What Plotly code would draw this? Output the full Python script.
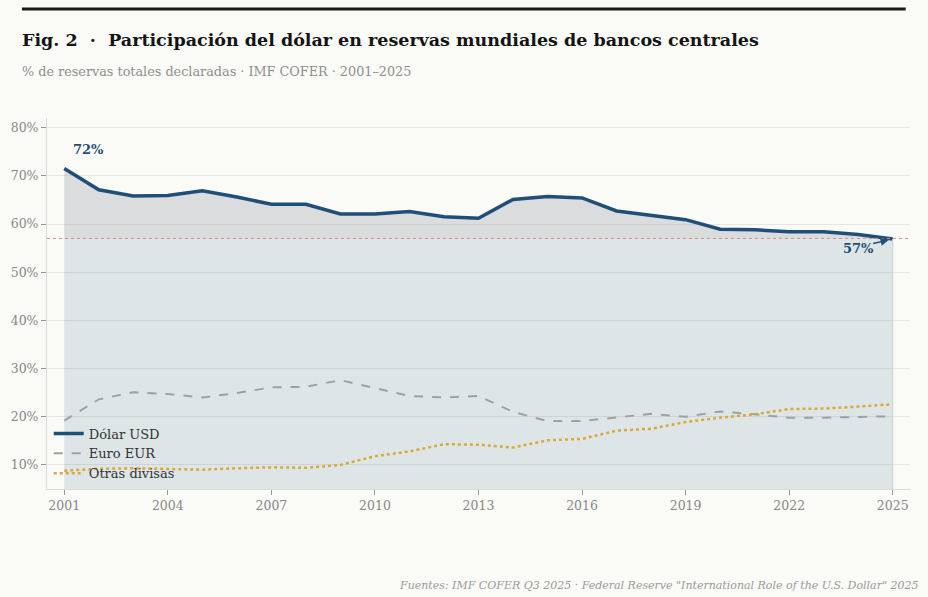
import plotly.graph_objects as go

# Data (IMF COFER, % of allocated reserves)
years = list(range(2001, 2026))
usd = [71.5, 67.1, 65.8, 65.9, 66.9, 65.6, 64.1, 64.1, 62.1, 62.1, 62.6, 61.5, 61.2,
       65.1, 65.7, 65.4, 62.7, 61.8, 60.9, 58.9, 58.8, 58.4, 58.4, 57.8, 56.9]
eur = [19.2, 23.6, 25.1, 24.7, 24.0, 24.9, 26.1, 26.2, 27.6, 25.9, 24.3, 24.0, 24.3,
       21.0, 19.1, 19.1, 19.9, 20.6, 20.0, 21.1, 20.5, 19.8, 19.8, 20.0, 20.1]
other = [8.8, 9.2, 9.3, 9.2, 9.0, 9.3, 9.5, 9.4, 10.0, 11.8, 12.8, 14.3, 14.2,
         13.6, 15.1, 15.4, 17.1, 17.5, 18.9, 19.8, 20.5, 21.6, 21.7, 22.1, 22.6]
ref_level = 57
tick_years = [2001, 2004, 2007, 2010, 2013, 2016, 2019, 2022, 2025]
pct_ticks = [10, 20, 30, 40, 50, 60, 70, 80]

serif = "DejaVu Serif"
bg = "#fafaf6"
blue = "#1f4e79"

fig = go.Figure()

# area under the dollar line
fig.add_trace(go.Scatter(
    x=years, y=usd, mode="lines", line=dict(width=0),
    fill="tozeroy", fillcolor="rgba(40,92,122,0.13)",
    showlegend=False, hoverinfo="skip"))
# tint between the 57% level and the dollar line
fig.add_trace(go.Scatter(
    x=years, y=[ref_level] * len(years), mode="lines", line=dict(width=0),
    showlegend=False, hoverinfo="skip"))
fig.add_trace(go.Scatter(
    x=years, y=usd, mode="lines", line=dict(width=0),
    fill="tonexty", fillcolor="rgba(180,80,80,0.06)",
    showlegend=False, hoverinfo="skip"))

fig.add_trace(go.Scatter(
    x=years, y=usd, mode="lines", name="Dólar USD",
    line=dict(color=blue, width=3.5)))
fig.add_trace(go.Scatter(
    x=years, y=eur, mode="lines", name="Euro EUR",
    line=dict(color="#a0a0a2", width=2, dash="dash")))
fig.add_trace(go.Scatter(
    x=years, y=other, mode="lines", name="Otras divisas",
    line=dict(color="#d9a93c", width=2.5, dash="dot")))

# 57% reference line
fig.add_shape(type="line", xref="paper", x0=0, x1=1, yref="y", y0=ref_level, y1=ref_level,
              line=dict(color="#d98c8c", width=1, dash="dot"))
# right edge of the area
fig.add_shape(type="line", xref="x", x0=2025, x1=2025, yref="paper", y0=0, y1=(usd[-1] - 5) / 77,
              line=dict(color="#c8d0d6", width=1))

# top rule
fig.add_shape(type="line", xref="paper", yref="paper", x0=-0.029, x1=0.995, y0=1.294, y1=1.294,
              line=dict(color="#1a1a1a", width=3))

fig.add_annotation(x=2001.7, y=75.4, text="<b>72%</b>", showarrow=False,
                   font=dict(family=serif, size=13, color=blue))
fig.add_annotation(x=2025, y=usd[-1], ax=-21, ay=5, text="", showarrow=True,
                   arrowhead=2, arrowsize=1.1, arrowwidth=1.5, arrowcolor=blue,
                   standoff=4)
fig.add_annotation(x=2024.0, y=54.9, text="<b>57%</b>", showarrow=False,
                   font=dict(family=serif, size=13, color=blue))

fig.add_annotation(xref="paper", yref="paper", x=-0.031, y=1.209, xanchor="left", yanchor="middle",
                   text="<b>Fig. 2  ·  Participación del dólar en reservas mundiales de bancos centrales</b>",
                   showarrow=False, font=dict(family=serif, size=17.5, color="#141414"))
fig.add_annotation(xref="paper", yref="paper", x=-0.031, y=1.124, xanchor="left", yanchor="middle",
                   text="% de reservas totales declaradas · IMF COFER · 2001–2025",
                   showarrow=False, font=dict(family=serif, size=12.8, color="#8f8f8f"))
fig.add_annotation(xref="paper", yref="paper", x=1.012, y=-0.259, xanchor="right", yanchor="middle",
                   text='<i>Fuentes: IMF COFER Q3 2025 · Federal Reserve "International Role of the U.S. Dollar" 2025</i>',
                   showarrow=False, font=dict(family=serif, size=11, color="#9a9a9a"))

fig.update_layout(
    width=928, height=597,
    paper_bgcolor=bg, plot_bgcolor=bg,
    margin=dict(l=47, r=18, t=118, b=108),
    font=dict(family=serif, color="#888888"),
    legend=dict(x=0.002, y=0.19, xanchor="left", yanchor="top", traceorder="normal",
                bgcolor="rgba(0,0,0,0)", font=dict(family=serif, size=13, color="#333333"),
                tracegroupgap=0, itemwidth=30),
    xaxis=dict(range=[2000.5, 2025.5], tickvals=tick_years, showgrid=False,
               showline=True, linecolor="#dcdad4", ticks="outside", ticklen=5,
               tickcolor="#999999", tickfont=dict(family=serif, size=12.5, color="#888888"),
               zeroline=False),
    yaxis=dict(range=[5, 82], tickvals=pct_ticks, ticktext=[f"{v}%" for v in pct_ticks],
               showgrid=True, gridcolor="#e8e6e0", gridwidth=1,
               showline=True, linecolor="#dcdad4", ticks="outside", ticklen=5,
               tickcolor="#999999", tickfont=dict(family=serif, size=12.5, color="#888888"),
               zeroline=False),
)

fig.write_html("out.html", config={"displayModeBar": False},
               post_script="document.body.style.margin='0';")
